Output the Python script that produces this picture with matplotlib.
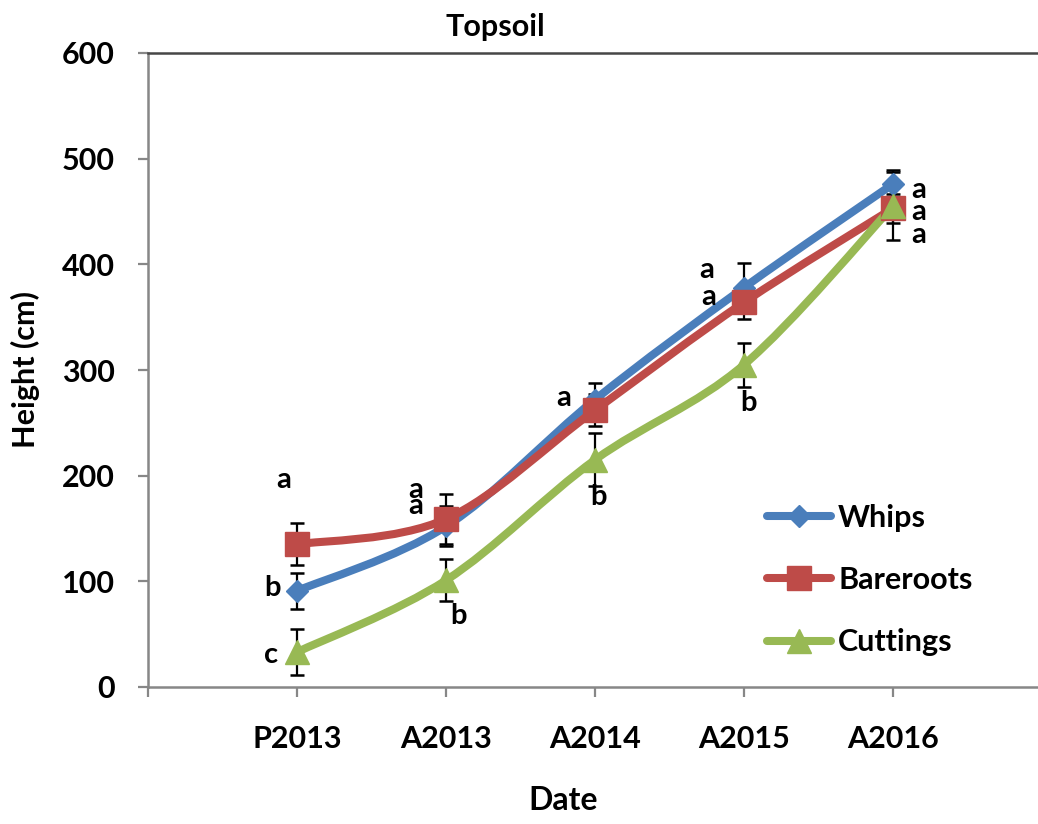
import matplotlib
matplotlib.use('Agg')
import matplotlib.pyplot as plt
from matplotlib.path import Path
from matplotlib.patches import PathPatch
from matplotlib.lines import Line2D
import numpy as np

plt.rcParams['font.family'] = ['Lato', 'DejaVu Sans']
plt.rcParams['font.weight'] = 'bold'

# data
dates = ['P2013', 'A2013', 'A2014', 'A2015', 'A2016']
whips = [91, 152, 272, 378, 476]
whips_err = [17, 19, 16, 23, 13]
bareroots = [135, 159, 262, 364, 453]
bareroots_err = [20, 24, 15, 16, 14]
cuttings = [33, 101, 215, 305, 455]
cuttings_err = [22, 20, 25, 21, 32]

# significance letters: (date index, letter, offset x px, offset y px, anchored to value)
letters = [
    (0, 'a', -13, -64, 135), (0, 'b', -25, -3, 91), (0, 'c', -26, 3, 33),
    (1, 'a', -30, -29, 159), (1, 'a', -30, -13, 159), (1, 'b', 12, 36, 101),
    (2, 'a', -31, -2, 272), (2, 'b', 3, 37, 215),
    (3, 'a', -37, -18, 378), (3, 'a', -35, -5, 364), (3, 'b', 5, 38, 305),
    (4, 'a', 26, 6, 476), (4, 'a', 26, 4, 453), (4, 'a', 26, 27, 453),
]

colors = {'Whips': '#4A7EBB', 'Bareroots': '#BE4B48', 'Cuttings': '#98B954'}
markers = {'Whips': ('D', 11.5), 'Bareroots': ('s', 17), 'Cuttings': ('^', 17)}

fig = plt.figure(figsize=(10.38, 8.24), dpi=100)
ax = fig.add_axes([148 / 1038, 1 - 687 / 824, 890 / 1038, 634 / 824])

x = np.arange(len(dates))


def smooth_path(xs, ys):
    # Excel-like smoothed line (Catmull-Rom as cubic Bezier)
    pts = np.column_stack([xs, ys]).astype(float)
    ext = np.vstack([pts[0], pts, pts[-1]])
    verts = [pts[0]]
    codes = [Path.MOVETO]
    for i in range(len(pts) - 1):
        p0, p1, p2, p3 = ext[i], ext[i + 1], ext[i + 2], ext[i + 3]
        c1 = p1 + (p2 - p0) / 6
        c2 = p2 - (p3 - p1) / 6
        verts += [c1, c2, p2]
        codes += [Path.CURVE4] * 3
    return Path(verts, codes)


series = [('Whips', whips, whips_err), ('Bareroots', bareroots, bareroots_err),
          ('Cuttings', cuttings, cuttings_err)]
handles = []
for name, vals, err in series:
    c = colors[name]
    ax.errorbar(x, vals, yerr=err, fmt='none', ecolor='black', elinewidth=1.6,
                capsize=5, capthick=1.8, zorder=2)
    ax.add_patch(PathPatch(smooth_path(x, vals), facecolor='none', edgecolor=c,
                           lw=5.8, capstyle='round', joinstyle='round', zorder=3))
    m, ms = markers[name]
    ax.plot(x, vals, linestyle='none', marker=m, markersize=ms, color=c, zorder=4)
    handles.append(Line2D([0], [0], color=c, lw=5.8, marker=m, markersize=ms,
                          solid_capstyle='round', label=name))

for i, t, dx, dy, v in letters:
    ax.annotate(t, (x[i], v), xytext=(dx * 0.72, -dy * 0.72), textcoords='offset points',
                ha='center', va='center', fontsize=21, fontweight='bold', zorder=5)

ax.set_xlim(-1, -1 + 890 / 149)
ax.set_ylim(0, 600)
ax.set_yticks(range(0, 601, 100))
ax.set_xticks(np.arange(-1, len(dates)))
ax.set_xticklabels([''] + dates)
ax.tick_params(axis='y', length=7, width=1.6, color='#878787', labelsize=22, pad=17)
ax.tick_params(axis='x', length=7, width=1.6, color='#878787', labelsize=22, pad=20)
for lab in ax.get_xticklabels() + ax.get_yticklabels():
    lab.set_fontweight('bold')

ax.spines['right'].set_visible(False)
ax.spines['top'].set_color('#474747')
ax.spines['top'].set_linewidth(1.8)
ax.spines['left'].set_color('#878787')
ax.spines['left'].set_linewidth(1.8)
ax.spines['bottom'].set_color('#878787')
ax.spines['bottom'].set_linewidth(1.8)

fig.text(495 / 1038, 1 - 27 / 824, 'Topsoil', ha='center', va='center',
         fontsize=22, fontweight='bold')
fig.text(563 / 1038, 1 - 800 / 824, 'Date', ha='center', va='center',
         fontsize=23, fontweight='bold')
fig.text(25 / 1038, 1 - 370 / 824, 'Height (cm)', ha='center', va='center',
         rotation=90, fontsize=22, fontweight='bold')

leg = ax.legend(handles=handles, loc='center left', bbox_to_anchor=(752 / 1038, 1 - 580 / 824),
                bbox_transform=fig.transFigure, frameon=False, fontsize=22,
                handlelength=2.1, handletextpad=0.22, labelspacing=1.12, borderpad=0)
for t in leg.get_texts():
    t.set_fontweight('bold')

fig.savefig('out.png', dpi=100)
plt.close(fig)
